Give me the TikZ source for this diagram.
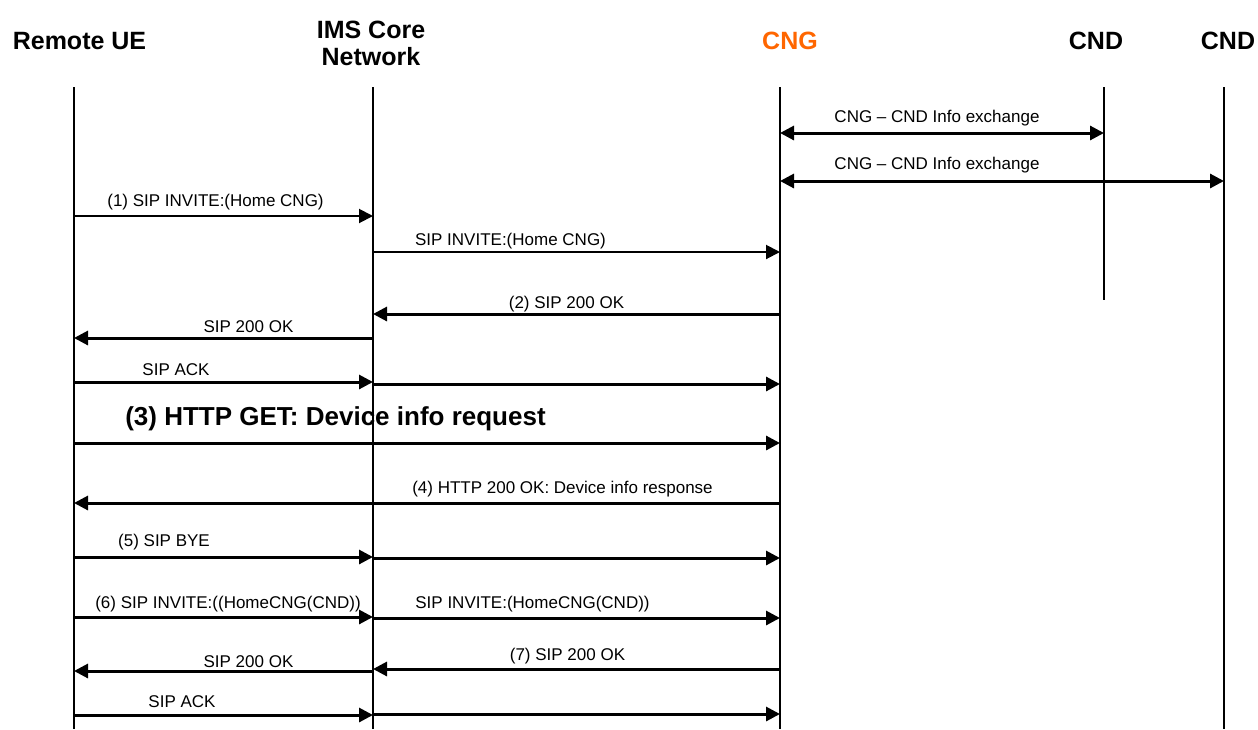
\documentclass[tikz,border=0pt]{standalone}
\usepackage{fontspec}
\setmainfont{Liberation Sans}
\usepackage{tikz}
\usetikzlibrary{arrows.meta}
\usetikzlibrary{positioning}

\definecolor{cngorange}{RGB}{255,102,0}

\begin{document}
\begin{tikzpicture}[x=0.5pt,y=-0.5pt,>={Triangle[length=7pt,width=7pt]},
	actor node/.style={font=\bfseries\fontsize{12.5}{13.5}\selectfont,align=center},
	msg label/.style={font=\fontsize{8.5}{10}\selectfont,anchor=base,inner sep=0pt},
	life line/.style={line width=1.1pt},
	thin msg/.style={->,line width=1pt},
	thick msg/.style={->,line width=1.5pt}]
	
	\useasboundingbox (0,0) rectangle (1258,729);
	
	% participants
	\node[actor node] (ue) at (79.5,41) {Remote UE};
	\node[actor node] (ims) at (371,43) {IMS Core\\Network};
	\node[actor node,text=cngorange] (cng) at (790,41) {CNG};
	\node[actor node] (cnda) at (1096,41) {CND};
	\node[actor node] (cndb) at (1228,41) {CND};
	
	% life lines
	\coordinate (ue top) at (74,87);
	\coordinate (ims top) at (373,87);
	\coordinate (cng top) at (780,87);
	\coordinate (cnda top) at (1104,87);
	\coordinate (cndb top) at (1224,87);
	\draw[life line] (ue top) -- (ue top |- 0,729);
	\draw[life line] (ims top) -- (ims top |- 0,729);
	\draw[life line] (cng top) -- (cng top |- 0,729);
	\draw[life line] (cnda top) -- (cnda top |- 0,300);
	\draw[life line] (cndb top) -- (cndb top |- 0,729);
	
	% CNG - CND
	\draw[<->,line width=1.5pt] (cng top |- 0,133) -- (cnda top |- 0,133);
	\node[msg label] (info a) at (937,122) {CNG -- CND Info exchange};
	\draw[<->,line width=1.5pt] (cng top |- 0,181) -- (cndb top |- 0,181);
	\node[msg label] (info b) at (937,169) {CNG -- CND Info exchange};
	
	% (1)
	\draw[thin msg] (ue top |- 0,216) -- (ims top |- 0,216);
	\node[msg label] (m1) at (215.5,206) {(1) SIP INVITE:(Home CNG)};
	\draw[thin msg] (ims top |- 0,252) -- (cng top |- 0,252);
	\node[msg label] (m1b) at (510.5,245) {SIP INVITE:(Home CNG)};
	
	% (2)
	\draw[thick msg] (cng top |- 0,314) -- (ims top |- 0,314);
	\node[msg label] (m2) at (566.5,308) {(2) SIP 200 OK};
	\draw[thick msg] (ims top |- 0,338) -- (ue top |- 0,338);
	\node[msg label] (m2b) at (248.5,332) {SIP 200 OK};
	\draw[thick msg] (ue top |- 0,382) -- (ims top |- 0,382);
	\draw[thick msg] (ims top |- 0,384) -- (cng top |- 0,384);
	\node[msg label] (m2c) at (176,375) {SIP ACK};
	
	% (3)
	\draw[thick msg] (ue top |- 0,443) -- (cng top |- 0,443);
	\node[msg label,font=\bfseries\fontsize{13}{15}\selectfont] (m3) at (335.5,425) {(3) HTTP GET: Device info request};
	
	% (4)
	\draw[thick msg] (cng top |- 0,503) -- (ue top |- 0,503);
	\node[msg label] (m4) at (562.5,493) {(4) HTTP 200 OK: Device info response};
	
	% (5)
	\draw[thick msg] (ue top |- 0,557) -- (ims top |- 0,557);
	\draw[thick msg] (ims top |- 0,558) -- (cng top |- 0,558);
	\node[msg label] (m5) at (164,546) {(5) SIP BYE};
	
	% (6)
	\draw[thick msg] (ue top |- 0,617) -- (ims top |- 0,617);
	\node[msg label] (m6) at (228,608) {(6) SIP INVITE:((HomeCNG(CND))};
	\draw[thick msg] (ims top |- 0,618) -- (cng top |- 0,618);
	\node[msg label] (m6b) at (532.5,608) {SIP INVITE:(HomeCNG(CND))};
	
	% (7)
	\draw[thick msg] (cng top |- 0,669) -- (ims top |- 0,669);
	\node[msg label] (m7) at (567.5,660) {(7) SIP 200 OK};
	\draw[thick msg] (ims top |- 0,671) -- (ue top |- 0,671);
	\node[msg label] (m7b) at (248.5,667) {SIP 200 OK};
	\draw[thick msg] (ue top |- 0,715) -- (ims top |- 0,715);
	\draw[thick msg] (ims top |- 0,714) -- (cng top |- 0,714);
	\node[msg label] (m7c) at (182,707) {SIP ACK};
	\end{tikzpicture}
\end{document}
